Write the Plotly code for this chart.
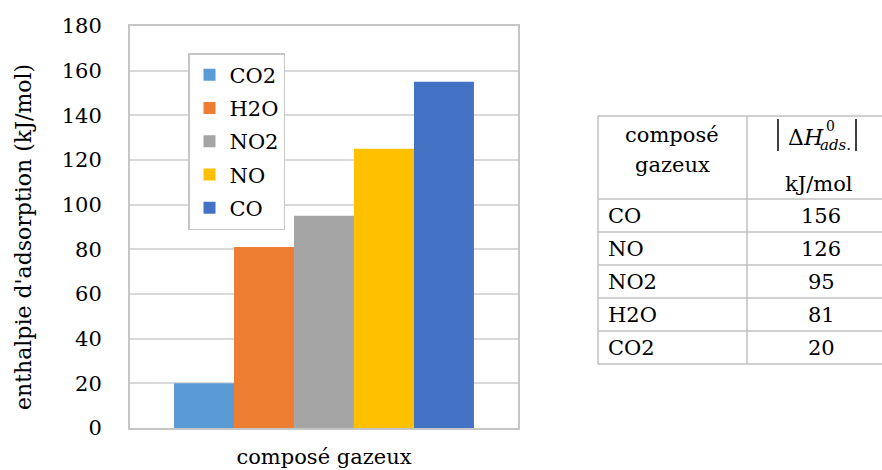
import plotly.graph_objects as go

# ---- data ----
category = ["composé gazeux"]
series_names = ["CO2", "H2O", "NO2", "NO", "CO"]
series_values = [20, 81, 95, 125, 155]
series_colors = ["#5B9BD5", "#ED7D31", "#A5A5A5", "#FFC000", "#4472C4"]
y_ticks = [0, 20, 40, 60, 80, 100, 120, 140, 160, 180]

table_header_left = ["composé", "gazeux"]
table_header_unit = "kJ/mol"
table_compounds = ["CO", "NO", "NO2", "H2O", "CO2"]
table_values = [156, 126, 95, 81, 20]

FONT = "DejaVu Serif"
W, H = 882, 470
L, R, T, B = 130, 518, 26, 428  # plot area in pixels


def px(x):
    return (x - L) / (R - L)


def py(y):
    return (B - y) / (B - T)


fig = go.Figure()
for name, val, col in zip(series_names, series_values, series_colors):
    fig.add_trace(go.Bar(x=category, y=[val], name=name, legendgroup=name,
                         marker=dict(color=col, line=dict(width=0))))

fig.update_layout(
    width=W, height=H,
    margin=dict(l=L, r=W - R, t=T, b=H - B, autoexpand=False),
    paper_bgcolor="white", plot_bgcolor="white",
    barmode="group", bargap=0.227, bargroupgap=0,
    font=dict(family=FONT, size=21, color="#000000"),
    showlegend=True,
    legend=dict(x=px(188), y=py(53), xanchor="left", yanchor="top",
                bgcolor="white", bordercolor="#c6c6c6", borderwidth=1.5,
                font=dict(family=FONT, size=21), traceorder="grouped",
                tracegroupgap=3),
)
fig.update_xaxes(showgrid=False, showline=True, linecolor="#c6c6c6", linewidth=2, mirror=True,
                 ticks="", ticklabelstandoff=9, tickfont=dict(size=21), automargin=False)
fig.update_yaxes(range=[0, 180], tickvals=y_ticks, showgrid=True, gridcolor="#d9d9d9", gridwidth=1.5,
                 showline=True, linecolor="#c6c6c6", linewidth=2, mirror=True,
                 ticks="", ticklabelstandoff=22, tickfont=dict(size=21), zeroline=False, automargin=False)

# y axis title as annotation
fig.add_annotation(x=px(23), y=py(237), xref="paper", yref="paper", text="enthalpie d'adsorption (kJ/mol)",
                   textangle=-90, showarrow=False, font=dict(family=FONT, size=22), xanchor="center", yanchor="middle")

# ---- table ----
line_col = "#c0c0c0"
tx0, tx1, tdiv = 598, 895, 747
row_y = [116, 199, 232, 265, 298, 331, 364]
for yy in row_y:
    fig.add_shape(type="line", xref="paper", yref="paper", x0=px(tx0), x1=px(tx1), y0=py(yy), y1=py(yy),
                  line=dict(color=line_col, width=1.5))
for xx in [tx0, tdiv]:
    fig.add_shape(type="line", xref="paper", yref="paper", x0=px(xx), x1=px(xx), y0=py(row_y[0]), y1=py(row_y[-1]),
                  line=dict(color=line_col, width=1.5))

hdr_y = [135, 165]
for txt, yy in zip(table_header_left, hdr_y):
    fig.add_annotation(x=px(672), y=py(yy), xref="paper", yref="paper", text=txt, showarrow=False,
                       font=dict(family=FONT, size=21), xanchor="center", yanchor="middle")

# |ΔH0 ads.|
fig.add_annotation(x=px(826), y=py(137), xref="paper", yref="paper", text="Δ<i>H</i>", showarrow=False,
                   font=dict(family=FONT, size=22), xanchor="right", yanchor="middle")
fig.add_annotation(x=px(825), y=py(135), xref="paper", yref="paper", text="0", showarrow=False,
                   font=dict(family=FONT, size=14), xanchor="left", yanchor="bottom", borderpad=0)
fig.add_annotation(x=px(819), y=py(135), xref="paper", yref="paper", text="<i>ads.</i>", showarrow=False,
                   font=dict(family=FONT, size=15), xanchor="left", yanchor="top", borderpad=0)
for xx in [778, 856]:
    fig.add_shape(type="line", xref="paper", yref="paper", x0=px(xx), x1=px(xx), y0=py(119), y1=py(151),
                  line=dict(color="#000000", width=1.5))
fig.add_annotation(x=px(819), y=py(184), xref="paper", yref="paper", text=table_header_unit, showarrow=False,
                   font=dict(family=FONT, size=21), xanchor="center", yanchor="middle")

for i, (c, v) in enumerate(zip(table_compounds, table_values)):
    yc = (row_y[i + 1] + row_y[i + 2]) / 2
    fig.add_annotation(x=px(606), y=py(yc), xref="paper", yref="paper", text=c, showarrow=False,
                       font=dict(family=FONT, size=21), xanchor="left", yanchor="middle")
    fig.add_annotation(x=px(821), y=py(yc), xref="paper", yref="paper", text=str(v), showarrow=False,
                       font=dict(family=FONT, size=21), xanchor="center", yanchor="middle")

post = ("document.documentElement.style.margin='0';document.documentElement.style.overflow='hidden';"
        "document.body.style.margin='0';document.body.style.overflow='hidden';")
fig.write_html("out.html", config={"displayModeBar": False}, post_script=post)
